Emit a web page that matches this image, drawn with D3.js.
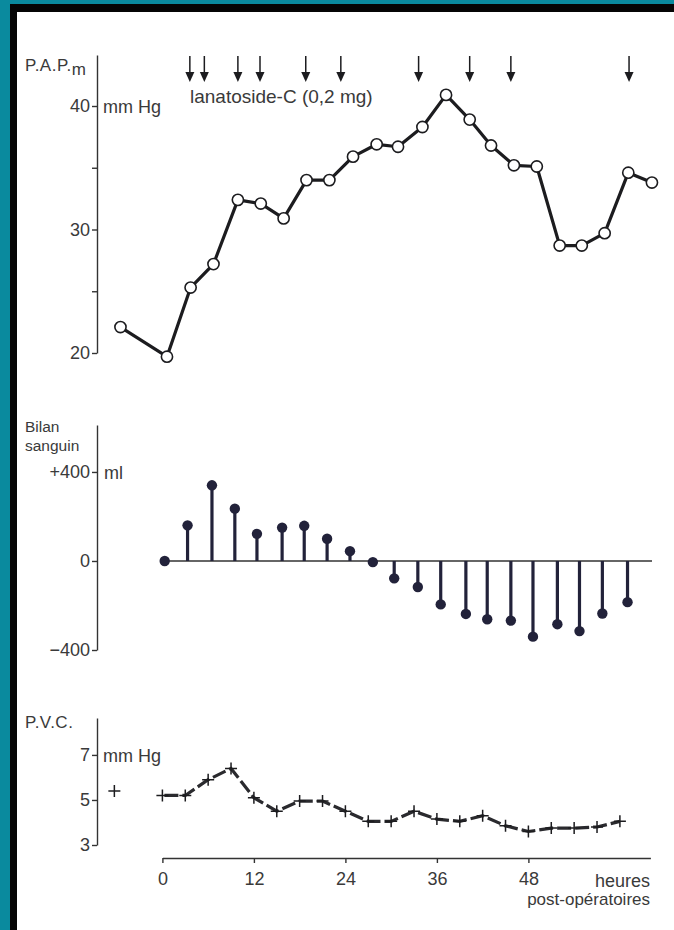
<!DOCTYPE html>
<html>
<head>
<meta charset="utf-8">
<script src="https://cdn.jsdelivr.net/npm/d3@7"></script>
<style>
  html, body { margin: 0; padding: 0; background: #0a8a9e; }
  svg { display: block; }
  text { font-family: "Liberation Sans", Arial, sans-serif; fill: #3a3a3a; }
  .axis path, .axis line { stroke: #333; stroke-width: 1.4; }
  .axis text { font-size: 18px; fill: #3a3a3a; }
</style>
</head>
<body>
<svg id="chart" width="674" height="930"></svg>
<script>
// P.A.P. moyenne (mm Hg), heures post-opératoires
const papHours  = [-5.5, 0.6, 3.7, 6.7, 9.9, 12.9, 15.9, 18.9, 21.9, 25.0, 28.1, 30.9,
                   34.1, 37.2, 40.3, 43.1, 46.1, 49.1, 52.1, 55.0, 58.0, 61.1, 64.2];
const papValues = [22.1, 19.7, 25.3, 27.2, 32.4, 32.1, 30.9, 34.0, 34.0, 35.9, 36.9, 36.7,
                   38.3, 40.9, 38.9, 36.8, 35.2, 35.1, 28.7, 28.7, 29.7, 34.6, 33.8];

// lanatoside-C (0,2 mg) doses
const doseHours = [3.6, 5.5, 9.9, 12.8, 18.8, 23.4, 33.6, 40.3, 45.7, 61.2];

// bilan sanguin (ml)
const bilanHours  = [0.3, 3.3, 6.5, 9.5, 12.4, 15.7, 18.6, 21.6, 24.6, 27.6, 30.4,
                     33.5, 36.5, 39.8, 42.6, 45.7, 48.6, 51.8, 54.7, 57.7, 61.0];
const bilanValues = [0, 160, 340, 235, 122, 150, 158, 100, 44, -5, -78,
                     -117, -195, -238, -262, -268, -340, -284, -315, -236, -185];

// P.V.C. (mm Hg)
const pvcHours  = [0, 3, 6, 9, 12, 15, 18, 21, 24, 27, 30, 33, 36, 39, 42, 45, 48, 51, 54, 57, 60];
const pvcValues = [5.2, 5.2, 5.9, 6.4, 5.1, 4.5, 4.95, 4.95, 4.5, 4.05, 4.05,
                   4.5, 4.15, 4.05, 4.3, 3.85, 3.6, 3.75, 3.75, 3.8, 4.05];
const pvcPreHour  = [-6.3];
const pvcPreValue = [5.4];

const hourTicks = [0, 12, 24, 36, 48];

const svg = d3.select('#chart');
const ink = '#1c1c1f';

// page frame (scan border)
svg.append('rect').attr('width', 674).attr('height', 930).attr('fill', '#0a8a9e');
svg.append('rect').attr('x', 10).attr('y', 4).attr('width', 664).attr('height', 926).attr('fill', '#050505');
svg.append('rect').attr('x', 17).attr('y', 12).attr('width', 657).attr('height', 918).attr('fill', '#fff');

const axisX = 97;
const x = d3.scaleLinear().domain([0, 64]).range([162.4, 650.4]);

const yPap   = d3.scaleLinear().domain([20, 44.13]).range([353, 55]);
const yBilan = d3.scaleLinear().domain([-400, 611]).range([650, 425]);
const yPvc   = d3.scaleLinear().domain([3, 8.64]).range([845, 718]);

function leftAxis(scale, ticks, fmt) {
  return d3.axisLeft(scale).tickValues(ticks).tickFormat(fmt)
    .tickSize(5).tickSizeOuter(0).tickPadding(2);
}

svg.append('g').attr('class', 'axis').attr('transform', `translate(${axisX},0)`)
  .call(leftAxis(yPap, [20, 25, 30, 35, 40], d => d % 10 === 0 ? d : ''));
svg.append('g').attr('class', 'axis').attr('transform', `translate(${axisX},0)`)
  .call(leftAxis(yBilan, [-400, 0, 400], d => d > 0 ? '+' + d : d < 0 ? '\u2212' + (-d) : '0'));
svg.append('g').attr('class', 'axis').attr('transform', `translate(${axisX},0)`)
  .call(leftAxis(yPvc, [3, 5, 7], d => d));

svg.append('g').attr('class', 'axis').attr('transform', 'translate(0,858)')
  .call(d3.axisBottom(x).tickValues(hourTicks).tickSize(5).tickSizeOuter(0).tickPadding(9));

svg.selectAll('.axis .domain').attr('fill', 'none');

// labels
const label = (tx, ty, s, size, anchor) => svg.append('text')
  .attr('x', tx).attr('y', ty).attr('font-size', size || 18)
  .attr('text-anchor', anchor || 'start').text(s);

const pap = svg.append('text').attr('x', 25).attr('y', 71).attr('font-size', 17)
  .attr('letter-spacing', 0.5);
pap.append('tspan').text('P.A.P.');
pap.append('tspan').attr('dy', 4).text('m');
label(103, 113, 'mm Hg');
label(190, 103, 'lanatoside-C (0,2 mg)', 19);
label(25, 432, 'Bilan', 15.5);
label(25, 451, 'sanguin', 15.5);
label(104, 479, 'ml');
label(25, 728, 'P.V.C.', 17).attr('letter-spacing', 0.5);
label(103, 762, 'mm Hg');
label(650, 887, 'heures', 18, 'end');
label(650, 905, 'post-opératoires', 17, 'end');

// dose arrows
const arrows = svg.append('g');
doseHours.forEach(h => {
  const ax = x(h);
  arrows.append('line').attr('x1', ax).attr('x2', ax).attr('y1', 56).attr('y2', 76)
    .attr('stroke', ink).attr('stroke-width', 1.5);
  arrows.append('path')
    .attr('d', `M${ax - 4.5},72 L${ax + 4.5},72 L${ax},82 Z`).attr('fill', ink);
});

// P.A.P. line
const papData = papHours.map((h, i) => ({ h, v: papValues[i] }));
svg.append('path').datum(papData)
  .attr('d', d3.line().x(d => x(d.h)).y(d => yPap(d.v)))
  .attr('fill', 'none').attr('stroke', ink).attr('stroke-width', 3.2).attr('stroke-linejoin', 'round');
svg.selectAll('.pap-pt').data(papData).enter().append('circle')
  .attr('cx', d => x(d.h)).attr('cy', d => yPap(d.v)).attr('r', 5.6)
  .attr('fill', '#fff').attr('stroke', ink).attr('stroke-width', 1.6);

// bilan sanguin stems
const bilanData = bilanHours.map((h, i) => ({ h, v: bilanValues[i] }));
svg.append('line').attr('x1', x(0)).attr('x2', 652)
  .attr('y1', yBilan(0)).attr('y2', yBilan(0)).attr('stroke', '#333').attr('stroke-width', 1.4);
svg.selectAll('.stem').data(bilanData).enter().append('line')
  .attr('x1', d => x(d.h)).attr('x2', d => x(d.h))
  .attr('y1', yBilan(0)).attr('y2', d => yBilan(d.v))
  .attr('stroke', '#22223a').attr('stroke-width', 3.2);
svg.selectAll('.dot').data(bilanData).enter().append('circle')
  .attr('cx', d => x(d.h)).attr('cy', d => yBilan(d.v)).attr('r', 5.2)
  .attr('fill', '#22223a');

// P.V.C. line with crosses
const pvcData = pvcHours.map((h, i) => ({ h, v: pvcValues[i] }));
svg.append('path').datum(pvcData)
  .attr('d', d3.line().x(d => x(d.h)).y(d => yPvc(d.v)))
  .attr('fill', 'none').attr('stroke', '#2a2a2e').attr('stroke-width', 3.2)
  .attr('stroke-dasharray', '14 4').attr('stroke-dashoffset', -2);
const cross = d => `M${x(d.h) - 6},${yPvc(d.v)} h12 M${x(d.h)},${yPvc(d.v) - 6} v12`;
svg.selectAll('.pvc-pt').data(pvcData).enter().append('path')
  .attr('d', cross).attr('stroke', ink).attr('stroke-width', 1.5);
const preData = pvcPreHour.map((h, i) => ({ h, v: pvcPreValue[i] }));
svg.selectAll('.pvc-pre').data(preData).enter().append('path')
  .attr('d', cross).attr('stroke', ink).attr('stroke-width', 1.5);
</script>
</body>
</html>
